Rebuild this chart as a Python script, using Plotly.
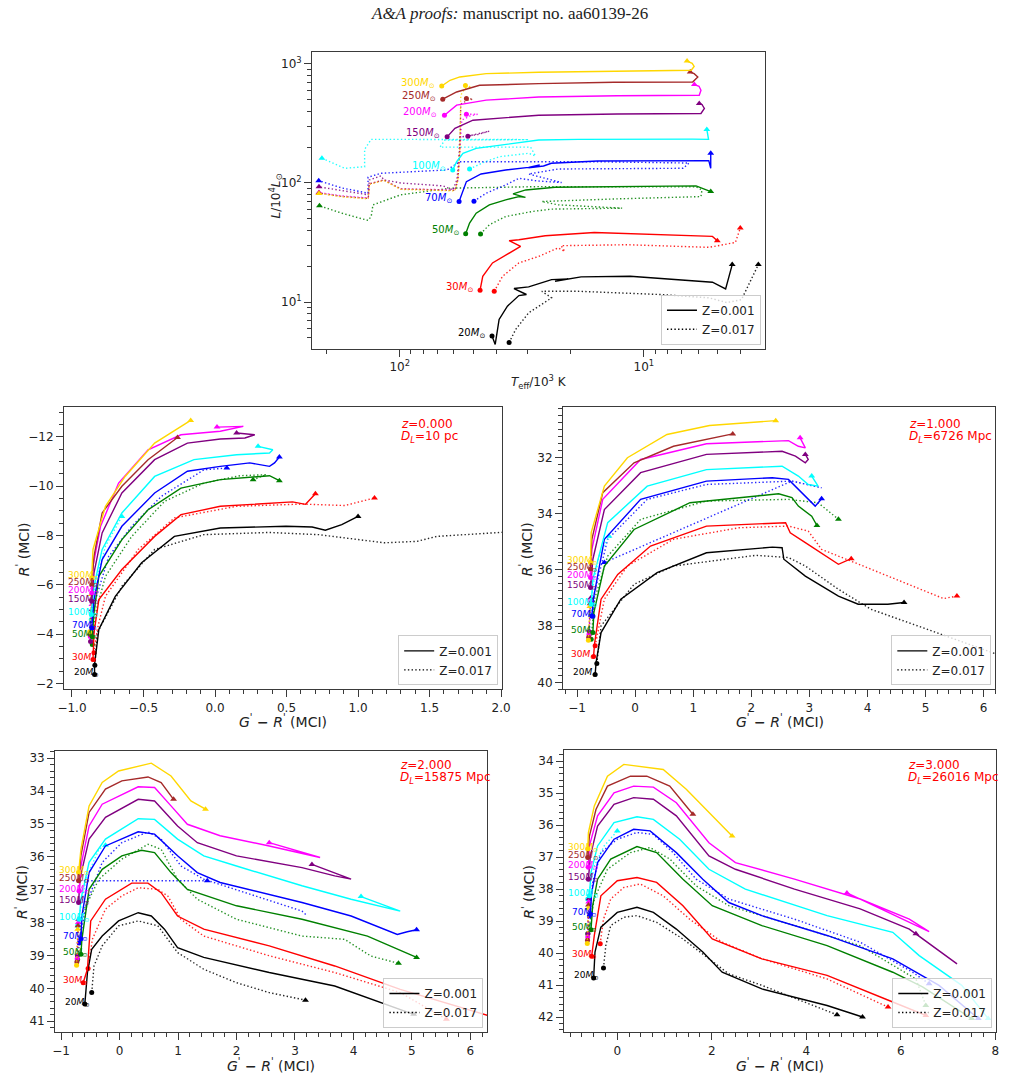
import plotly.graph_objects as go

# ======================= DATA =======================
MASSES = [20, 30, 50, 70, 100, 150, 200, 250, 300]

# --- HR diagram: (log10 Teff/1e3K, log10 L/1e4 Lsun) ---
HR_Z001_M20 = [(1.622,0.714),(1.609,0.644),(1.593,0.854),(1.559,0.965),(1.512,1.054),(1.481,1.063),(1.532,1.113),(1.472,1.127),(1.378,1.188),(1.310,1.194),(1.364,1.174),(1.257,1.211),(1.056,1.216),(0.719,1.166),(0.665,1.110),(0.638,1.314)]
HR_Z017_M20 = [(1.552,0.659),(1.525,0.770),(1.472,0.909),(1.378,1.035),(1.418,1.090),(1.270,1.090),(0.934,1.063),(0.733,1.035),(0.66,0.995),(0.60,1.02),(0.531,1.314)]
HR_Z001_M30 = [(1.671,1.099),(1.660,1.216),(1.620,1.328),(1.539,1.425),(1.505,1.467),(1.552,1.515),(1.512,1.523),(1.404,1.556),(1.203,1.584),(0.719,1.551),(0.699,1.515)]
HR_Z017_M30 = [(1.613,1.090),(1.579,1.216),(1.512,1.328),(1.431,1.383),(1.351,1.454),(1.324,1.425),(1.339,1.473),(1.069,1.481),(0.733,1.459),(0.665,1.481),(0.625,1.500),(0.605,1.621)]
HR_Z001_M50 = [(1.730,1.573),(1.714,1.663),(1.687,1.746),(1.633,1.816),(1.566,1.858),(1.512,1.885),(1.485,1.879),(1.536,1.908),(1.484,1.941),(1.364,1.964),(0.786,1.975),(0.726,1.927)]
HR_Z017_M50 = [(1.669,1.571),(1.633,1.649),(1.566,1.718),(1.458,1.760),(1.378,1.780),(1.089,1.788),(1.351,1.816),(1.418,1.844),(1.109,1.866),(0.766,1.885),(0.762,1.941),(0.786,1.967),(1.190,1.967),(1.431,1.969),(1.794,1.956),(1.996,1.900),(2.110,1.816),(2.117,1.718),(2.130,1.685),(2.238,1.746),(2.329,1.808)]
HR_Z001_M70 = [(1.757,1.844),(1.727,2.011),(1.667,2.075),(1.566,2.109),(1.472,2.131),(1.427,2.151),(1.472,2.126),(1.411,2.142),(1.379,2.165),(1.190,2.184),(0.734,2.187),(0.726,2.123),(0.726,2.249)]
HR_Z017_M70 = [(1.696,1.847),(1.646,1.914),(1.566,1.983),(1.512,2.039),(1.438,2.017),(1.337,2.003),(1.472,2.075),(1.351,2.117),(0.839,2.123),(0.815,2.167),(1.190,2.178),(1.754,2.178),(1.806,2.109),(2.077,2.081),(2.130,2.048),(2.130,1.914),(2.238,1.958),(2.332,2.019)]
HR_Z001_M100 = [(1.783,2.109),(1.767,2.178),(1.741,2.249),(1.687,2.290),(1.431,2.360),(1.270,2.366),(0.800,2.368),(0.735,2.366),(0.742,2.449)]
HR_Z017_M100 = [(1.714,2.117),(1.653,2.176),(1.593,2.220),(1.472,2.249),(1.444,2.226),(1.464,2.301),(1.835,2.301),(1.815,2.360),(1.472,2.364),(1.794,2.366),(2.117,2.366),(2.144,2.282),(2.144,2.136),(2.225,2.123),(2.319,2.207)]
HR_Z001_M150 = [(1.806,2.387),(1.774,2.458),(1.700,2.527),(1.431,2.569),(1.109,2.579),(0.766,2.583),(0.752,2.625),(0.762,2.659),(0.773,2.667)]
HR_Z017_M150 = [(1.721,2.393),(1.645,2.427),(1.633,2.435),(1.681,2.406),(1.754,2.385),(1.758,2.192),(1.766,2.025),(1.782,1.941),(1.823,1.975),(1.996,2.000),(2.065,2.025),(2.077,2.059),(2.125,2.025),(2.129,1.900),(2.238,1.933),(2.331,1.967)]
HR_Z001_M200 = [(1.817,2.569),(1.767,2.653),(1.646,2.695),(1.431,2.722),(1.109,2.732),(0.773,2.736),(0.766,2.778),(0.774,2.812),(0.793,2.826)]
HR_Z017_M200 = [(1.727,2.577),(1.681,2.577),(1.714,2.561),(1.746,2.527),(1.754,2.276),(1.762,2.025),(1.774,1.941),(1.996,1.950),(2.065,2.025),(2.125,1.992),(2.129,1.874),(2.238,1.891),(2.331,1.919)]
HR_Z001_M250 = [(1.824,2.703),(1.767,2.764),(1.673,2.820),(1.431,2.834),(1.122,2.845),(0.800,2.848),(0.779,2.890),(0.794,2.918),(0.810,2.931)]
HR_Z017_M250 = [(1.727,2.709),(1.700,2.703),(1.722,2.695),(1.750,2.661),(1.754,2.276),(1.762,2.025),(1.774,1.937),(1.996,1.950),(2.065,2.025),(2.125,1.992),(2.129,1.870),(2.238,1.887),(2.331,1.916)]
HR_Z001_M300 = [(1.828,2.814),(1.794,2.862),(1.754,2.890),(1.646,2.918),(1.431,2.929),(1.190,2.935),(0.880,2.940),(0.806,2.946),(0.794,2.979),(0.802,3.004),(0.823,3.023)]
HR_Z017_M300 = [(1.731,2.818),(1.707,2.806),(1.734,2.795),(1.750,2.736),(1.754,2.276),(1.762,2.025),(1.774,1.933),(1.996,1.946),(2.065,2.021),(2.125,1.987),(2.129,1.866),(2.238,1.883),(2.331,1.912)]

# --- colour-magnitude tracks: (G'-R', R') ; None separates segments ---
# z = 0
P0_Z001_M20 = [(-0.842,-2.36),(-0.842,-2.77),(-0.812,-4.19),(-0.697,-5.53),(-0.513,-6.89),(-0.284,-7.96),(0.037,-8.30),(0.496,-8.37),(0.679,-8.34),(0.771,-8.21),(0.886,-8.44),(1.0,-8.77)]
P0_Z017_M20 = [(-0.84,-2.74),(-0.823,-4.05),(-0.651,-5.94),(-0.422,-7.43),(-0.078,-8.03),(0.381,-8.12),(0.725,-8.03),(1.184,-7.70),(1.413,-7.76),(1.55,-7.96),(2.05,-8.14)]
P0_Z001_M30 = [(-0.853,-2.97),(-0.846,-4.05),(-0.812,-5.40),(-0.651,-6.62),(-0.422,-7.96),(-0.238,-8.84),(0.037,-9.18),(0.542,-9.36),(0.633,-9.26),(0.702,-9.69)]
P0_Z017_M30 = [(-0.846,-3.24),(-0.823,-4.19),(-0.766,-5.53),(-0.537,-7.43),(-0.284,-8.71),(0.151,-9.18),(0.611,-9.27),(0.908,-9.21),(1.115,-9.52)]
P0_Z001_M50 = [(-0.858,-3.89),(-0.846,-4.86),(-0.812,-6.34),(-0.651,-7.83),(-0.468,-9.04),(-0.238,-9.92),(0.037,-10.26),(0.381,-10.42),(0.45,-10.22)]
P0_Z017_M50 = [(-0.858,-3.58),(-0.835,-4.86),(-0.766,-6.34),(-0.582,-7.96),(-0.353,-9.38),(-0.078,-10.12),(0.175,-10.42),(0.358,-10.46),(0.266,-10.26)]
P0_Z001_M70 = [(-0.862,-4.25),(-0.846,-5.40),(-0.789,-7.02),(-0.651,-8.37),(-0.422,-9.72),(-0.193,-10.60),(0.037,-10.80),(0.243,-10.94),(0.381,-10.80),(0.416,-10.94),(0.45,-11.18)]
P0_Z017_M70 = [(-0.862,-4.05),(-0.835,-5.40),(-0.743,-7.15),(-0.582,-8.37),(-0.376,-9.58),(-0.078,-10.66),(0.083,-10.73)]
P0_Z001_M100 = [(-0.865,-4.79),(-0.846,-5.94),(-0.789,-7.43),(-0.651,-8.91),(-0.422,-10.39),(-0.147,-11.07),(0.151,-11.27),(0.381,-11.34),(0.404,-11.47),(0.301,-11.61)]
P0_Z017_M100 = [(-0.865,-4.59),(-0.835,-6.08),(-0.766,-7.56),(-0.651,-8.77)]
P0_Z001_M150 = [(-0.862,-5.33),(-0.846,-6.48),(-0.789,-8.10),(-0.651,-9.72),(-0.422,-11.07),(-0.193,-11.74),(0.037,-11.91),(0.209,-11.95),(0.278,-12.08),(0.151,-12.15)]
P0_Z017_M150 = [(-0.870,-3.70),(-0.865,-4.40),(-0.860,-5.00)]
P0_Z001_M200 = [(-0.862,-5.67),(-0.853,-6.75),(-0.800,-8.37),(-0.674,-10.12),(-0.468,-11.47),(-0.238,-12.08),(0.037,-12.22),(0.083,-12.28),(0.198,-12.42),(0.014,-12.39)]
P0_Z017_M200 = [(-0.872,-3.90),(-0.866,-4.60),(-0.860,-5.20)]
P0_Z001_M250 = [(-0.862,-6.00),(-0.846,-7.15),(-0.789,-8.91),(-0.651,-9.99),(-0.468,-11.07),(-0.262,-11.97)]
P0_Z017_M250 = [(-0.874,-4.00),(-0.868,-4.80),(-0.862,-5.40)]
P0_Z001_M300 = [(-0.862,-6.28),(-0.853,-7.43),(-0.766,-9.18),(-0.628,-10.39),(-0.422,-11.74),(-0.170,-12.66)]
P0_Z017_M300 = [(-0.876,-4.10),(-0.870,-4.90),(-0.864,-5.60)]
# z = 1
P1_Z001_M20 = [(-0.689,39.72),(-0.672,39.29),(-0.587,38.23),(-0.247,37.04),(0.378,36.10),(1.228,35.39),(2.362,35.19),(2.53,35.21),(2.56,35.62),(2.93,36.22),(3.50,36.93),(3.84,37.22),(4.35,37.22),(4.63,37.16)]
P1_Z017_M20 = [(-0.66,39.33),(-0.587,37.99),(-0.019,36.51),(0.66,35.86),(2.08,35.48),(2.64,35.56),(2.93,35.86),(3.50,36.69),(4.06,37.40),(5.20,38.23),(6.33,39.06),(6.50,39.20)]
P1_Z001_M30 = [(-0.716,39.08),(-0.70,38.64),(-0.587,37.04),(-0.30,36.16),(0.264,35.15),(1.228,34.44),(2.59,34.32),(2.67,34.68),(2.93,35.03),(3.44,35.74),(3.50,35.80),(3.72,35.60)]
P1_Z017_M30 = [(-0.689,38.70),(-0.53,37.04),(-0.133,35.86),(0.66,34.91),(1.79,34.50),(2.64,34.44),(2.98,34.62),(3.21,35.27),(3.78,35.74),(4.35,36.22),(4.91,36.69),(5.31,37.02),(5.54,36.93)]
P1_Z001_M50 = [(-0.728,38.23),(-0.711,37.52),(-0.53,35.86),(-0.019,34.56),(0.944,33.61),(2.47,33.29),(2.70,33.43),(2.81,33.73),(3.04,34.09),(3.13,34.42)]
P1_Z017_M50 = [(-0.757,38.47),(-0.70,37.04),(-0.473,35.51),(0.094,34.20),(1.228,33.55),(2.64,33.49),(3.15,33.61),(3.50,34.20)]
P1_Z001_M70 = [(-0.745,37.64),(-0.72,37.04),(-0.53,34.91),(0.094,33.49),(1.228,32.84),(2.36,32.72),(2.64,32.78),(2.81,33.14),(3.04,33.61),(3.10,33.73),(3.21,33.47)]
P1_Z017_M70 = [(-0.728,37.64),(-0.70,36.81),(-0.473,34.91),(0.208,33.49),(1.228,32.96),(2.70,32.84),(3.21,33.08),(2.70,32.84),(-0.53,35.74)]
P1_Z001_M100 = [(-0.757,37.22),(-0.728,36.33),(-0.473,34.32),(0.208,33.02),(1.228,32.43),(2.53,32.31),(2.81,32.66),(2.98,32.96),(3.15,33.02),(3.04,32.66)]
P1_Z017_M100 = [(-0.76,37.60),(-0.73,36.60),(-0.62,35.50),(-0.45,34.80)]
P1_Z001_M150 = [(-0.768,36.63),(-0.728,35.62),(-0.53,33.85),(0.094,32.54),(1.228,31.89),(2.53,31.78),(2.76,31.95),(2.93,32.19),(2.98,32.07),(2.93,31.89)]
P1_Z017_M150 = [(-0.790,38.20),(-0.780,37.60),(-0.765,37.00)]
P1_Z001_M200 = [(-0.768,36.27),(-0.745,35.27),(-0.558,33.49),(0.094,32.07),(1.228,31.51),(2.64,31.40),(2.81,31.60),(2.93,31.66),(2.84,31.30)]
P1_Z017_M200 = [(-0.795,38.30),(-0.785,37.70),(-0.770,37.10)]
P1_Z001_M250 = [(-0.768,35.98),(-0.745,34.91),(-0.558,33.25),(-0.019,32.19),(0.66,31.60),(1.68,31.16)]
P1_Z017_M250 = [(-0.800,38.40),(-0.790,37.80),(-0.775,37.20)]
P1_Z001_M300 = [(-0.768,35.74),(-0.757,34.67),(-0.53,33.02),(-0.133,32.01),(0.548,31.18),(1.28,30.86),(2.42,30.69)]
P1_Z017_M300 = [(-0.805,38.50),(-0.795,37.90),(-0.780,37.30)]
# z = 2
P2_Z001_M20 = [(-0.594,40.48),(-0.549,39.52),(-0.476,38.81),(-0.297,38.41),(-0.017,37.95),(0.319,37.70),(0.543,37.80),(0.768,38.20),(0.992,38.76),(1.44,39.06),(2.56,39.52),(3.68,39.93),(5.03,40.79)]
P2_Z017_M20 = [(-0.476,40.13),(-0.437,39.32),(-0.297,38.71),(-0.017,38.10),(0.319,37.95),(0.655,38.10),(0.992,38.91),(1.44,39.42),(2.00,39.83),(2.56,40.13),(3.18,40.36)]
P2_Z001_M30 = [(-0.622,39.83),(-0.549,39.42),(-0.493,37.95),(-0.241,37.29),(0.207,36.80),(0.487,36.80),(0.711,37.09),(0.992,37.80),(1.44,38.20),(2.56,38.71),(3.68,39.32),(4.80,40.03),(6.35,40.85)]
P2_Z017_M30 = [(-0.538,39.40),(-0.465,38.51),(-0.241,37.59),(0.039,37.19),(0.319,36.94),(0.655,36.99),(0.824,37.19),(1.05,37.90),(1.44,38.41),(2.56,39.01),(3.68,39.52),(4.80,40.13),(5.59,40.94)]
P2_Z001_M50 = [(-0.661,38.96),(-0.644,38.51),(-0.521,36.99),(-0.297,36.38),(0.039,35.97),(0.375,35.80),(0.599,35.87),(0.880,36.48),(1.16,36.99),(2.00,37.49),(3.12,37.90),(4.24,38.41),(5.08,39.06)]
P2_Z017_M50 = [(-0.717,39.12),(-0.633,37.70),(-0.353,36.68),(0.039,36.07),(0.487,35.62),(0.711,35.77),(0.992,36.68),(1.33,37.29),(2.00,37.90),(3.12,38.41),(3.85,38.51),(4.30,39.02),(4.77,39.24)]
P2_Z001_M70 = [(-0.661,38.49),(-0.644,37.80),(-0.521,36.48),(-0.241,35.67),(0.319,35.24),(0.599,35.31),(0.992,35.97),(1.33,36.48),(1.72,36.78),(3.12,37.39),(3.96,37.80),(4.75,38.36),(4.92,38.28),(5.08,38.22)]
P2_Z017_M70 = [(-0.689,38.62),(-0.577,37.49),(-0.297,36.17),(0.039,35.57),(0.487,35.24),(0.711,35.46),(1.05,36.28),(1.44,36.68),(3.12,37.65),(3.20,37.78),None,(-0.80,36.73),(1.50,36.73)]
P2_Z001_M100 = [(-0.689,37.90),(-0.661,37.29),(-0.521,36.17),(-0.241,35.46),(0.319,34.84),(0.599,34.86),(0.992,35.46),(1.44,35.97),(2.00,36.28),(3.12,36.88),(3.96,37.29),(4.80,37.65),(4.13,37.21)]
P2_Z017_M100 = [(-0.717,38.10),(-0.577,36.68),(-0.353,35.77),(-0.241,35.65)]
P2_Z001_M150 = [(-0.700,37.39),(-0.678,36.68),(-0.521,35.46),(-0.241,34.80),(0.319,34.25),(0.599,34.30),(0.992,35.06),(1.33,35.57),(2.00,35.97),(3.12,36.33),(3.68,36.58),(3.96,36.68),(3.29,36.23)]
P2_Z017_M150 = [(-0.720,39.00),(-0.715,38.50),(-0.700,37.90)]
P2_Z001_M200 = [(-0.689,37.04),(-0.661,36.28),(-0.521,35.06),(-0.297,34.40),(0.319,33.87),(0.599,33.89),(0.880,34.45),(1.16,35.01),(1.72,35.36),(2.56,35.67),(3.43,36.02),(2.56,35.57)]
P2_Z017_M200 = [(-0.725,39.10),(-0.720,38.60),(-0.705,38.00)]
P2_Z001_M250 = [(-0.700,36.73),(-0.661,35.97),(-0.521,34.65),(-0.241,33.94),(0.039,33.69),(0.487,33.57),(0.711,33.74),(0.924,34.25)]
P2_Z017_M250 = [(-0.730,39.20),(-0.725,38.70),(-0.710,38.10)]
P2_Z001_M300 = [(-0.700,36.48),(-0.661,35.77),(-0.521,34.45),(-0.297,33.74),(-0.017,33.39),(0.543,33.15),(0.880,33.54),(1.22,34.30),(1.47,34.55)]
P2_Z017_M300 = [(-0.735,39.30),(-0.730,38.80),(-0.715,38.20)]
# z = 3
P3_Z001_M20 = [(-0.50,40.78),(-0.472,39.97),(-0.347,39.19),(0.0,38.73),(0.417,38.57),(0.764,38.73),(1.25,39.25),(1.81,39.97),(2.22,40.60),(3.06,41.12),(4.44,41.64),(5.19,42.00)]
P3_Z017_M20 = [(-0.292,40.47),(-0.243,39.77),(-0.139,39.14),(0.139,38.88),(0.417,38.83),(0.833,39.04),(1.39,39.56),(1.94,40.18),(2.36,40.65),(3.06,41.01),(4.65,41.93)]
P3_Z001_M30 = [(-0.542,40.10),(-0.486,39.45),(-0.347,38.21),(0.0,37.74),(0.417,37.64),(0.833,37.79),(1.39,38.52),(2.01,39.56),(3.06,40.18),(4.44,40.70),(5.83,41.53),(6.53,41.95)]
P3_Z017_M30 = [(-0.361,39.71),(-0.292,38.94),(-0.139,38.31),(0.139,37.95),(0.486,37.84),(0.972,38.21),(1.53,38.94),(2.22,39.66),(3.06,40.18),(4.44,40.81),(5.73,41.69)]
P3_Z001_M50 = [(-0.556,39.27),(-0.521,38.52),(-0.417,37.69),(-0.139,37.06),(0.417,36.67),(0.833,36.86),(1.39,37.69),(2.01,38.52),(3.06,39.14),(4.44,39.77),(5.83,40.60),(6.46,41.06),(7.50,42.05)]
P3_Z017_M50 = [(-0.625,39.40),(-0.486,38.31),(-0.208,37.38),(0.278,36.86),(0.694,36.70),(1.11,37.06),(1.67,37.90),(2.36,38.52),(3.75,39.14),(5.14,39.77),(6.32,40.81),(6.53,41.64)]
P3_Z001_M70 = [(-0.569,38.78),(-0.542,38.10),(-0.417,37.17),(-0.069,36.44),(0.347,36.13),(0.694,36.18),(1.25,36.86),(1.81,37.69),(2.36,38.42),(3.06,38.83),(4.44,39.45),(5.83,40.18),(6.81,41.01),(7.64,42.05)]
P3_Z017_M70 = [(-0.590,38.84),(-0.521,37.79),(-0.347,36.86),(0.0,36.44),(0.417,36.23),(0.764,36.29),(1.18,36.86),(1.67,37.69),(2.36,38.31),(3.75,38.94),(5.14,39.66),(6.25,40.60),(6.60,40.96)]
P3_Z001_M100 = [(-0.590,38.21),(-0.556,37.48),(-0.417,36.65),(-0.069,35.92),(0.417,35.74),(0.764,35.82),(1.32,36.44),(1.94,37.38),(2.71,38.00),(4.44,38.83),(5.83,39.35),(6.39,40.08),(7.29,41.01),(7.85,42.05)]
P3_Z017_M100 = [(-0.625,38.31),(-0.486,37.27),(-0.278,36.65),(0.0,36.18)]
P3_Z001_M150 = [(-0.611,37.69),(-0.569,36.96),(-0.417,36.03),(-0.069,35.35),(0.347,35.14),(0.764,35.19),(1.25,35.71),(1.94,36.96),(2.50,37.38),(3.75,38.00),(5.14,38.62),(6.18,39.25),(7.19,40.34),(6.32,39.40)]
P3_Z017_M150 = [(-0.620,39.40),(-0.615,38.90),(-0.600,38.30)]
P3_Z001_M200 = [(-0.611,37.32),(-0.590,36.65),(-0.417,35.71),(-0.069,34.99),(0.347,34.78),(0.764,34.81),(1.25,35.30),(1.94,36.55),(2.50,37.17),(3.75,37.69),(5.14,38.31),(6.18,38.94),(6.60,39.33),(4.86,38.12)]
P3_Z017_M200 = [(-0.625,39.50),(-0.620,39.00),(-0.605,38.40)]
P3_Z001_M250 = [(-0.625,37.01),(-0.590,36.34),(-0.451,35.51),(-0.208,34.78),(0.278,34.47),(0.625,34.47),(1.11,34.78),(1.60,35.66)]
P3_Z017_M250 = [(-0.630,39.60),(-0.625,39.10),(-0.610,38.50)]
P3_Z001_M300 = [(-0.625,36.75),(-0.611,36.23),(-0.486,35.40),(-0.208,34.47),(0.139,34.10),(0.972,34.26),(1.46,34.88),(2.08,35.82),(2.43,36.34)]
P3_Z017_M300 = [(-0.635,39.70),(-0.630,39.20),(-0.615,38.60)]

REDSHIFTS = ["0.000", "1.000", "2.000", "3.000"]
DISTANCES = ["10 pc", "6726 Mpc", "15875 Mpc", "26016 Mpc"]
Z_LABELS = ["Z=0.001", "Z=0.017"]

# ======================= TABLES BUILT FROM DATA =======================
HR_Z001 = [HR_Z001_M20, HR_Z001_M30, HR_Z001_M50, HR_Z001_M70, HR_Z001_M100, HR_Z001_M150, HR_Z001_M200, HR_Z001_M250, HR_Z001_M300]
HR_Z017 = [HR_Z017_M20, HR_Z017_M30, HR_Z017_M50, HR_Z017_M70, HR_Z017_M100, HR_Z017_M150, HR_Z017_M200, HR_Z017_M250, HR_Z017_M300]
CMD_Z001 = [
    [P0_Z001_M20, P0_Z001_M30, P0_Z001_M50, P0_Z001_M70, P0_Z001_M100, P0_Z001_M150, P0_Z001_M200, P0_Z001_M250, P0_Z001_M300],
    [P1_Z001_M20, P1_Z001_M30, P1_Z001_M50, P1_Z001_M70, P1_Z001_M100, P1_Z001_M150, P1_Z001_M200, P1_Z001_M250, P1_Z001_M300],
    [P2_Z001_M20, P2_Z001_M30, P2_Z001_M50, P2_Z001_M70, P2_Z001_M100, P2_Z001_M150, P2_Z001_M200, P2_Z001_M250, P2_Z001_M300],
    [P3_Z001_M20, P3_Z001_M30, P3_Z001_M50, P3_Z001_M70, P3_Z001_M100, P3_Z001_M150, P3_Z001_M200, P3_Z001_M250, P3_Z001_M300],
]
CMD_Z017 = [
    [P0_Z017_M20, P0_Z017_M30, P0_Z017_M50, P0_Z017_M70, P0_Z017_M100, P0_Z017_M150, P0_Z017_M200, P0_Z017_M250, P0_Z017_M300],
    [P1_Z017_M20, P1_Z017_M30, P1_Z017_M50, P1_Z017_M70, P1_Z017_M100, P1_Z017_M150, P1_Z017_M200, P1_Z017_M250, P1_Z017_M300],
    [P2_Z017_M20, P2_Z017_M30, P2_Z017_M50, P2_Z017_M70, P2_Z017_M100, P2_Z017_M150, P2_Z017_M200, P2_Z017_M250, P2_Z017_M300],
    [P3_Z017_M20, P3_Z017_M30, P3_Z017_M50, P3_Z017_M70, P3_Z017_M100, P3_Z017_M150, P3_Z017_M200, P3_Z017_M250, P3_Z017_M300],
]

# ======================= STYLE =======================
COLORS = ["#000000", "#FF0000", "#008000", "#0000FF", "#00FFFF", "#800080", "#FF00FF", "#A52A2A", "#FFD700"]
FONT = "DejaVu Sans"
W, H = 1020, 1076
AXC = "#3a3a3a"
DOT = "1.4px,2.3px"
LW = 1.4

def px_x(px):
    return px / W

def px_y(py):
    return 1 - py / H

fig = go.Figure()


def add_track(pts, color, dash, xa, ya, log=False, opacity=1.0):
    xs, ys = [], []
    for p in pts:
        if p is None:
            xs.append(None); ys.append(None)
        else:
            xs.append(10 ** p[0] if log else p[0])
            ys.append(10 ** p[1] if log else p[1])
    fig.add_trace(go.Scatter(x=xs, y=ys, mode="lines", xaxis=xa, yaxis=ya, opacity=opacity,
                             line=dict(color=color, width=LW, dash=dash),
                             showlegend=False, hoverinfo="skip", connectgaps=False))
    valid = [i for i, v in enumerate(xs) if v is not None]
    i0, i1 = valid[0], valid[-1]
    fig.add_trace(go.Scatter(x=[xs[i0]], y=[ys[i0]], mode="markers", xaxis=xa, yaxis=ya,
                             marker=dict(symbol="circle", size=5, color=color),
                             showlegend=False, hoverinfo="skip"))
    fig.add_trace(go.Scatter(x=[xs[i1]], y=[ys[i1]], mode="markers", xaxis=xa, yaxis=ya,
                             marker=dict(symbol="triangle-up", size=6, color=color),
                             showlegend=False, hoverinfo="skip"))


annotations = []

# ---- HR diagram ----
for k, m in enumerate(MASSES):
    add_track(HR_Z017[k], COLORS[k], DOT, "x", "y", log=True, opacity=0.85)
for k, m in enumerate(MASSES):
    add_track(HR_Z001[k], COLORS[k], "solid", "x", "y", log=True)
    s = HR_Z001[k][0]
    annotations.append(dict(x=s[0], y=s[1], xref="x", yref="y", xanchor="right", yanchor="middle",
                            xshift=-5, yshift=3, showarrow=False,
                            text=f"{m}<i>M</i><sub>⊙</sub>",
                            font=dict(family=FONT, size=10, color=COLORS[k])))

# ---- CMD panels ----
label_xshift = [8, 6, 6, 6, 2, 2, 2, 2, 2]
for p in range(4):
    xa, ya = f"x{p + 2}", f"y{p + 2}"
    for k, m in enumerate(MASSES):
        add_track(CMD_Z017[p][k], COLORS[k], DOT, xa, ya, opacity=0.85)
    for k, m in enumerate(MASSES):
        add_track(CMD_Z001[p][k], COLORS[k], "solid", xa, ya)
        s = CMD_Z001[p][k][0]
        annotations.append(dict(x=0, y=s[1], xref=f"{xa} domain", yref=ya, xanchor="left", yanchor="middle",
                                xshift=label_xshift[k], yshift=2, showarrow=False,
                                text=f"{m}<i>M</i><sub>⊙</sub>",
                                font=dict(family=FONT, size=9, color=COLORS[k])))

# ---- legends (one per panel) ----
legend_names = ["legend", "legend2", "legend3", "legend4", "legend5"]
for lg in legend_names:
    for lbl, dash in zip(Z_LABELS, ["solid", DOT]):
        fig.add_trace(go.Scatter(x=[None], y=[None], mode="lines", name=lbl,
                                 line=dict(color="black", width=1.4, dash=dash),
                                 legend=lg, showlegend=True, hoverinfo="skip"))

# ---- axes ----
common = dict(showline=True, linecolor=AXC, linewidth=1.2, mirror=True, ticks="outside", ticklen=7,
              tickwidth=1.2, tickcolor=AXC, showgrid=False, zeroline=False,
              tickfont=dict(family=FONT, size=12, color="#222"))


def minor(dt):
    return dict(ticks="outside", ticklen=4, tickwidth=1, tickcolor=AXC, dtick=dt, showgrid=False)

layout_axes = {}
layout_axes["xaxis"] = dict(common, type="log", domain=[px_x(310), px_x(770)], range=[2.359, 0.504], anchor="y",
                            tickvals=[10, 100], ticktext=["10<sup>1</sup>", "10<sup>2</sup>"],
                            minor=dict(ticks="outside", ticklen=4, tickwidth=1, tickcolor=AXC, showgrid=False,
                                       tickvals=[4, 5, 6, 7, 8, 9, 20, 30, 40, 50, 60, 70, 80, 90, 200]))
layout_axes["yaxis"] = dict(common, type="log", domain=[px_y(349), px_y(52)], range=[0.608, 3.10], anchor="x",
                            tickvals=[10, 100, 1000], ticktext=["10<sup>1</sup>", "10<sup>2</sup>", "10<sup>3</sup>"],
                            minor=dict(ticks="outside", ticklen=4, tickwidth=1, tickcolor=AXC, showgrid=False,
                                       tickvals=[5, 6, 7, 8, 9, 20, 30, 40, 50, 60, 70, 80, 90, 200, 300, 400, 500, 600, 700, 800, 900]))

panel_px = [  # (left, right, top, bottom) in pixels
    (58, 503, 407, 690),
    (565, 1004, 407, 690),
    (49, 488, 752, 1033),
    (566, 1005, 751, 1033),
]
x_ranges = [[-1.055, 2.007], [-1.24, 6.2], [-1.1, 6.29], [-1.125, 8.02]]
y_ranges = [[-1.76, -13.22], [40.25, 30.19], [41.33, 32.79], [42.47, 33.66]]
x_dticks = [0.5, 1, 1, 2]
x_minor = [0.1, 0.2, 0.2, 0.25]
y_dticks = [2, 2, 1, 1]
y_minor = [0.5, 0.25, 0.2, 0.2]
x_fmt = [".1f", "d", "d", "d"]
for p in range(4):
    l, r, t, b = panel_px[p]
    n = p + 2
    layout_axes[f"xaxis{n}"] = dict(common, domain=[px_x(l), px_x(r)], range=x_ranges[p], anchor=f"y{n}",
                                    dtick=x_dticks[p], tick0=0, tickformat=x_fmt[p], minor=minor(x_minor[p]))
    layout_axes[f"yaxis{n}"] = dict(common, domain=[px_y(b), px_y(t)], range=y_ranges[p], anchor=f"x{n}",
                                    dtick=y_dticks[p], tick0=0, minor=minor(y_minor[p]))

fig.update_layout(**layout_axes)

# ---- legends placement ----
legend_box = [(766, 345), (499, 686), (1000, 686), (484, 1029), (1001, 1029)]
leg_common = dict(xanchor="right", yanchor="bottom", bgcolor="rgba(255,255,255,0.8)", bordercolor="#cccccc",
                  borderwidth=1, font=dict(family=FONT, size=12, color="#222"), tracegroupgap=0,
                  itemwidth=30)
legend_layout = {}
for lg, (rx, by) in zip(legend_names, legend_box):
    legend_layout[lg] = dict(leg_common, x=px_x(rx), y=px_y(by))
fig.update_layout(**legend_layout)


def text_ann(x, y, text, size, color="#222", angle=0, xanchor="center", family=FONT):
    return dict(x=x, y=y, xref="paper", yref="paper", showarrow=False, xanchor=xanchor, yanchor="middle",
                text=text, textangle=angle, font=dict(family=family, size=size, color=color))

annotations.append(text_ann(0.5, px_y(14), "<i>A&amp;A proofs:</i> manuscript no. aa60139-26", 17,
                            family="Liberation Serif"))
annotations.append(text_ann(px_x(540), px_y(382), "<i>T</i><sub>eff</sub>/10<sup>3</sup> K", 12))
annotations.append(text_ann(px_x(273), px_y(196), "<i>L</i>/10<sup>4</sup><i>L</i><sub>⊙</sub>", 12, angle=-90))

xt_pos = [(280, 722), (785, 722), (268, 1066), (785, 1066)]
yt_pos = [(17, 550), (528, 550), (15, 893), (530, 893)]
for p in range(4):
    annotations.append(text_ann(px_x(xt_pos[p][0]), px_y(xt_pos[p][1]),
                                "<i>G</i><sup>'</sup> <b>−</b> <i>R</i><sup>'</sup> (MCI)", 14))
    annotations.append(text_ann(px_x(yt_pos[p][0]), px_y(yt_pos[p][1]),
                                "<i>R</i><sup>'</sup> (MCI)", 14, angle=-90))

zl_pos = [(398, 424), (914, 424), (397, 766), (913, 766)]
for p in range(4):
    x0, y0 = zl_pos[p]
    annotations.append(text_ann(px_x(x0), px_y(y0), f"<i>z</i>={REDSHIFTS[p]}", 12, color="red", xanchor="left"))
    annotations.append(text_ann(px_x(x0), px_y(y0 + 13), f"<i>D</i><sub><i>L</i></sub>={DISTANCES[p]}", 12,
                                color="red", xanchor="left"))

fig.update_layout(width=W, height=H, margin=dict(l=0, r=0, t=0, b=0), paper_bgcolor="white",
                  plot_bgcolor="white", annotations=annotations, showlegend=True)

fig.write_html("out.html")
